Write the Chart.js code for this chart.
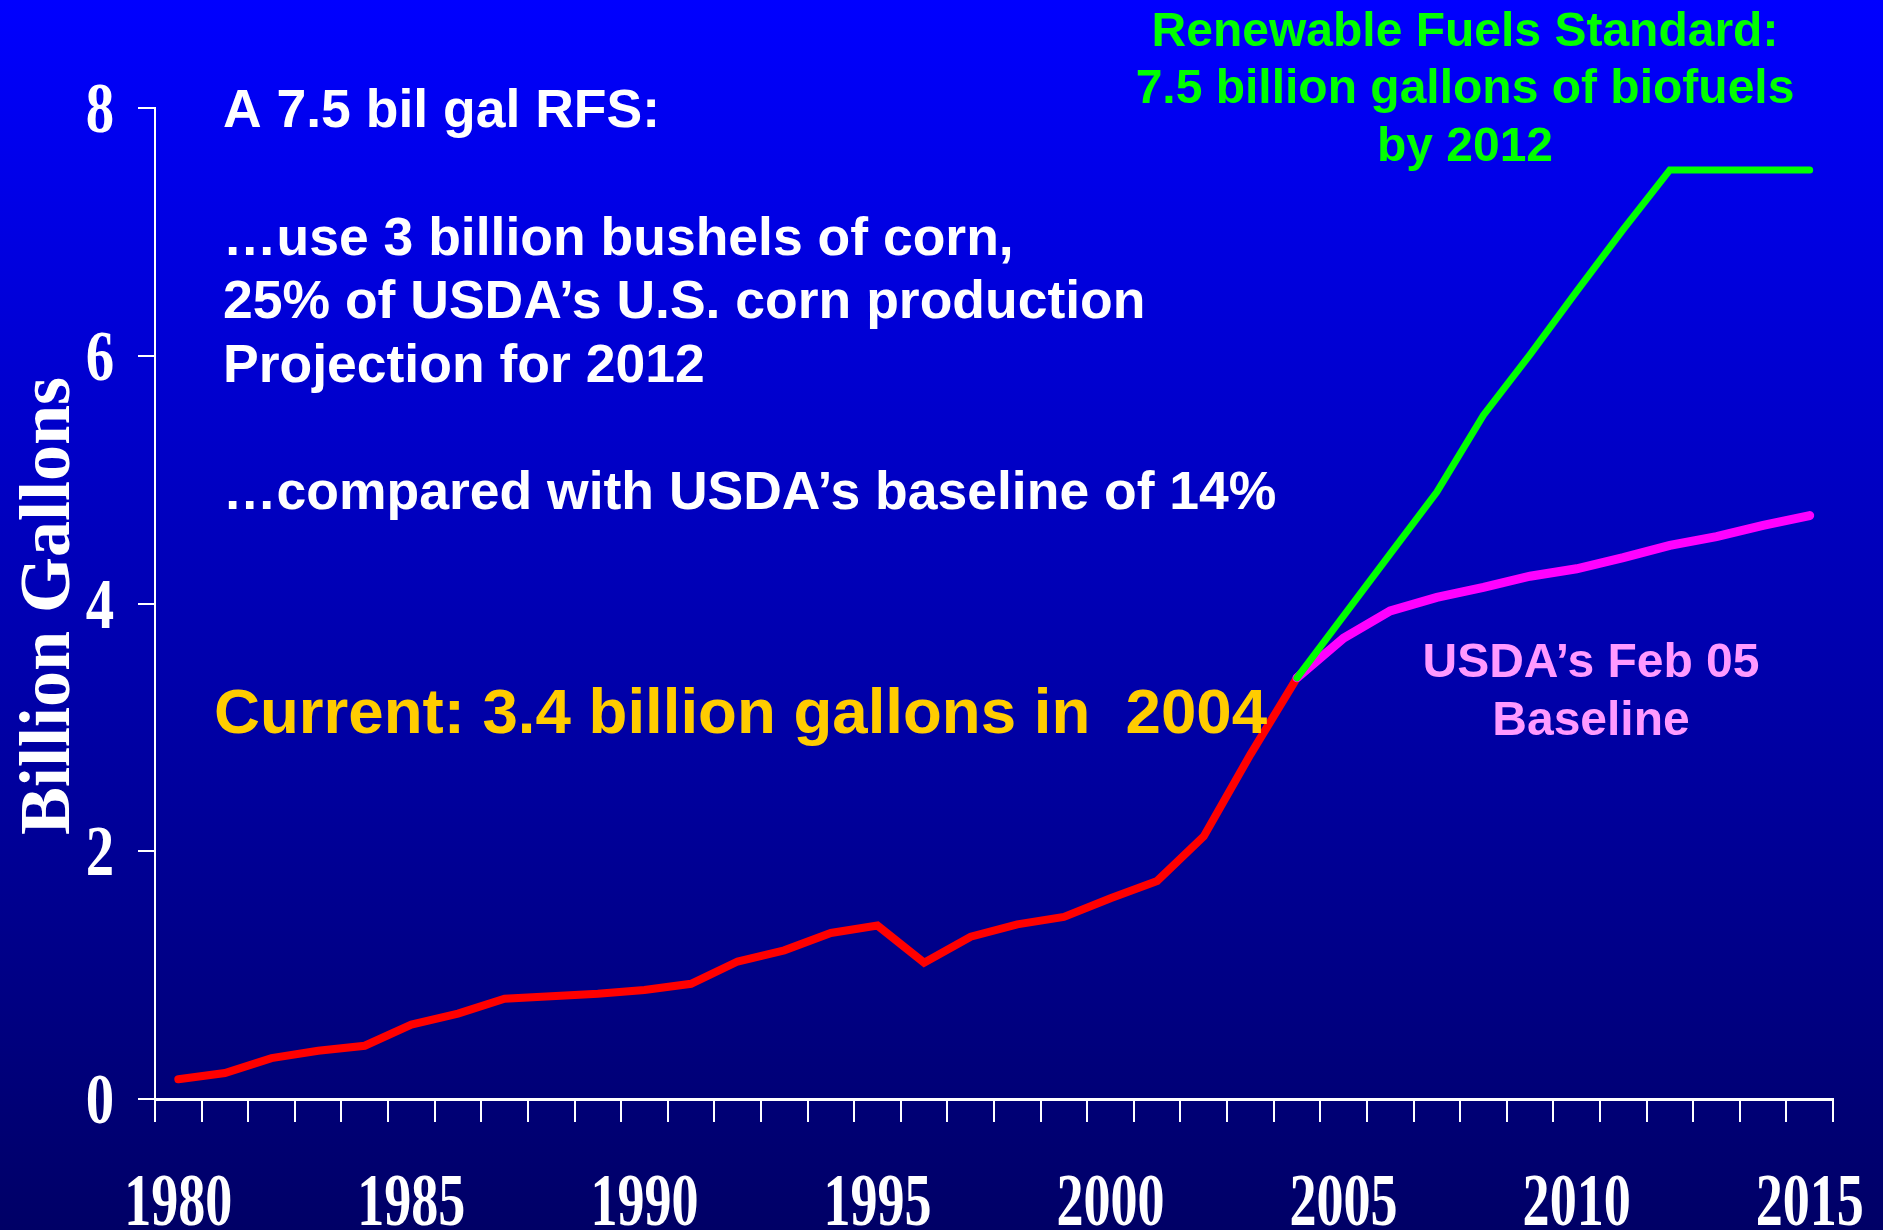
<!DOCTYPE html>
<html>
<head>
<meta charset="utf-8">
<title>Ethanol production and the 7.5 billion gallon RFS</title>
<script src="https://cdn.jsdelivr.net/npm/chart.js@4/dist/chart.umd.min.js"></script>
<style>
  html, body { margin: 0; padding: 0; overflow: hidden; }
  #wrap {
    width: 1883px;
    height: 1230px;
    background: linear-gradient(to bottom, #0000ff 0%, #000066 100%);
  }
</style>
</head>
<body>
<div id="wrap"><canvas id="fuelChart"></canvas></div>
<script>
const years = [
  "1980", "1981", "1982", "1983", "1984", "1985", "1986", "1987", "1988",
  "1989", "1990", "1991", "1992", "1993", "1994", "1995", "1996", "1997",
  "1998", "1999", "2000", "2001", "2002", "2003", "2004", "2005", "2006",
  "2007", "2008", "2009", "2010", "2011", "2012", "2013", "2014", "2015",
];

// Ethanol production, billion gallons, 1980-2004
const actualProduction = [
  0.16, 0.21, 0.33, 0.39, 0.43, 0.60, 0.69, 0.81, 0.83, 0.85, 0.88, 0.93,
  1.11, 1.20, 1.34, 1.40, 1.10, 1.31, 1.41, 1.47, 1.62, 1.76, 2.12, 2.78,
  3.40,
];

// Projections, 2004-2015
const usdaBaseline = [
  3.40, 3.72, 3.94, 4.05, 4.13, 4.22, 4.28, 4.37, 4.47, 4.54, 4.63, 4.71,
];
const rfsPath = [
  3.40, 3.90, 4.40, 4.90, 5.52, 6.01, 6.52, 7.02, 7.50, 7.50, 7.50, 7.50,
];

const yTicks = [0, 2, 4, 6, 8];
const labelledYears = ["1980", "1985", "1990", "1995", "2000", "2005", "2010", "2015"];

const notesWhite = [
  "A 7.5 bil gal RFS:",
  "\u2026use 3 billion bushels of corn,",
  "25% of USDA\u2019s U.S. corn production",
  "Projection for 2012",
  "\u2026compared with USDA\u2019s baseline of 14%",
];
const rfsNote = ["Renewable Fuels Standard:", "7.5 billion gallons of biofuels", "by 2012"];
const baselineNote = ["USDA\u2019s Feb 05", "Baseline"];
const currentNote = "Current: 3.4 billion gallons in  2004";

// projections start at the 2004 point
const projStart = years.indexOf("2004");
const padBefore = (arr) => Array(projStart).fill(null).concat(arr);

const SERIF = "'Liberation Serif', 'Times New Roman', serif";
const SANS = "'Liberation Sans', Arial, sans-serif";

// Condensed serif axis labels plus the slide text
const slideText = {
  id: "slideText",
  afterDraw(chart) {
    const ctx = chart.ctx;
    const xScale = chart.scales.x;
    const yScale = chart.scales.y;
    ctx.save();
    ctx.fillStyle = "#ffffff";

    // x axis years
    ctx.font = "bold 74px " + SERIF;
    ctx.textAlign = "center";
    ctx.textBaseline = "alphabetic";
    labelledYears.forEach((yr) => {
      const x = xScale.getPixelForValue(years.indexOf(yr));
      ctx.save();
      ctx.translate(x, 1225);
      ctx.scale(0.73, 1);
      ctx.fillText(yr, 0, 0);
      ctx.restore();
    });

    // y axis values
    ctx.font = "bold 71px " + SERIF;
    yTicks.forEach((v) => {
      const y = yScale.getPixelForValue(v);
      ctx.save();
      ctx.translate(100, y + 24);
      ctx.scale(0.8, 1);
      ctx.fillText(String(v), 0, 0);
      ctx.restore();
    });

    // y axis title
    ctx.save();
    ctx.font = "bold 72px " + SERIF;
    ctx.translate(69, 606);
    ctx.rotate(-Math.PI / 2);
    ctx.fillText("Billion Gallons", 0, 0);
    ctx.restore();

    // white notes
    ctx.textAlign = "left";
    ctx.font = "bold 53.5px " + SANS;
    const whiteBaselines = [127, 255, 318, 382, 509];
    notesWhite.forEach((line, i) => ctx.fillText(line, 223, whiteBaselines[i]));

    // current production note
    ctx.fillStyle = "#ffcc00";
    ctx.font = "bold 63.6px " + SANS;
    ctx.fillText(currentNote, 214, 733);

    // RFS note
    ctx.textAlign = "center";
    ctx.fillStyle = "#00ff00";
    ctx.font = "bold 48px " + SANS;
    [46, 103, 161].forEach((y, i) => ctx.fillText(rfsNote[i], 1465, y));

    // baseline note
    ctx.fillStyle = "#ff99ff";
    [677, 735].forEach((y, i) => ctx.fillText(baselineNote[i], 1591, y));

    ctx.restore();
  },
};

const ctx = document.getElementById("fuelChart").getContext("2d");
new Chart(ctx, {
  type: "line",
  data: {
    labels: years,
    datasets: [
      {
        label: "RFS",
        data: padBefore(rfsPath),
        borderColor: "#00ff00",
        borderWidth: 7,
        order: 1,
      },
      {
        label: "USDA baseline",
        data: padBefore(usdaBaseline),
        borderColor: "#ff00ff",
        borderWidth: 9,
        order: 2,
      },
      {
        label: "Actual",
        data: actualProduction,
        borderColor: "#ff0000",
        borderWidth: 8,
        order: 3,
      },
    ],
  },
  options: {
    responsive: true,
    maintainAspectRatio: false,
    animation: false,
    events: [],
    layout: { padding: { top: 108, right: 50, left: 0, bottom: 0 } },
    elements: {
      point: { radius: 0 },
      line: { borderCapStyle: "round", tension: 0 },
    },
    plugins: {
      legend: { display: false },
      tooltip: { enabled: false },
    },
    scales: {
      x: {
        offset: true,
        grid: {
          offset: true,
          drawOnChartArea: false,
          drawTicks: true,
          tickLength: 23,
          color: "#ffffff",
          lineWidth: 2,
        },
        border: { display: true, color: "#ffffff", width: 3 },
        ticks: { display: false, autoSkip: false },
        afterFit: (scale) => {
          scale.height = 131;
        },
      },
      y: {
        min: 0,
        max: 8,
        grid: {
          drawOnChartArea: false,
          drawTicks: true,
          tickLength: 17,
          color: "#ffffff",
          lineWidth: 2,
        },
        border: { display: true, color: "#ffffff", width: 2 },
        ticks: { display: false, stepSize: 2 },
        afterFit: (scale) => {
          scale.width = 155;
        },
      },
    },
  },
  plugins: [slideText],
});
</script>
</body>
</html>
